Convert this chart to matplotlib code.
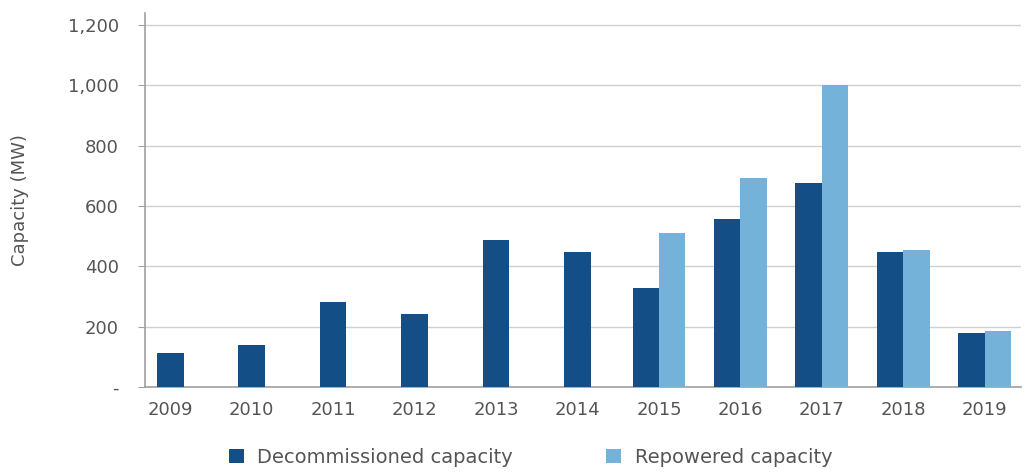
import numpy as np
import matplotlib.pyplot as plt
from matplotlib.ticker import FuncFormatter

# Capacity by year (MW)
years = ["2009", "2010", "2011", "2012", "2013", "2014",
         "2015", "2016", "2017", "2018", "2019"]
decommissioned = [112, 141, 281, 242, 487, 449, 327, 556, 678, 448, 180]
repowered = [0, 0, 0, 0, 0, 0, 509, 694, 1000, 454, 187]

dark = "#134e86"
light = "#74b2da"
grey = "#555555"

plt.rcParams['font.family'] = ['DejaVu Sans']

fig = plt.figure(figsize=(10.25, 4.72), dpi=100)
ax = fig.add_axes([0.1415, 0.18, 0.855, 0.7925])

x = np.arange(len(years))
w = 0.325
rep = np.array(repowered, dtype=float)
has_rep = rep > 0

# single bars sit in the middle of their slot, pairs straddle it
dec_x = np.where(has_rep, x - w / 2, x)
ax.bar(dec_x, decommissioned, width=w, color=dark, label="Decommissioned capacity", zorder=3)
ax.bar(x[has_rep] + w / 2, rep[has_rep], width=w, color=light, label="Repowered capacity", zorder=3)

ax.set_xlim(-0.31, 10.45)
ax.set_ylim(0, 1240)
ax.set_yticks(np.arange(0, 1201, 200))
ax.yaxis.set_major_formatter(FuncFormatter(lambda v, p: "-" if v == 0 else f"{int(v):,}"))
ax.set_xticks(x)
ax.set_xticklabels(years)

ax.grid(axis="y", color="#d0d0d0", linewidth=1, zorder=0)
for s in ["top", "right"]:
    ax.spines[s].set_visible(False)
for s in ["left", "bottom"]:
    ax.spines[s].set_color("#a0a0a0")
    ax.spines[s].set_linewidth(1.2)

ax.tick_params(axis="y", length=5, color="#a0a0a0", labelsize=13, labelcolor=grey, pad=14)
ax.tick_params(axis="x", length=0, labelsize=13, labelcolor=grey, pad=10)
ax.set_ylabel("Capacity (MW)", fontsize=13, color=grey, labelpad=28)

ax.legend(loc="upper center", bbox_to_anchor=(0.44, -0.115), ncol=2, frameon=False,
          fontsize=14, labelcolor=grey, handlelength=0.75, handleheight=0.75,
          columnspacing=4.8, handletextpad=0.7)

fig.savefig("out.png", dpi=100)
